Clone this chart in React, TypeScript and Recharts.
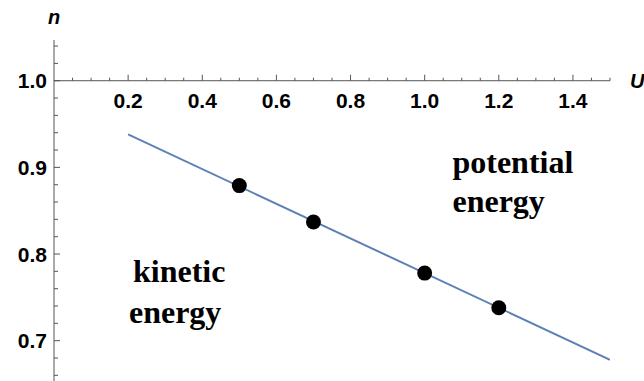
import {
  ComposedChart,
  Line,
  Scatter,
  XAxis,
  YAxis,
  ReferenceLine,
  ReferenceDot,
} from "recharts";

// fitted line n(U) and the four computed points
const lineU = [0.2, 1.5];
const lineN = [0.938, 0.678];
const pointU = [0.5, 0.7, 1.0, 1.2];
const pointN = [0.879, 0.837, 0.778, 0.738];

const xMajorTicks = [0.2, 0.4, 0.6, 0.8, 1.0, 1.2, 1.4];
const xMinorTicks = [
  0.05, 0.1, 0.15, 0.25, 0.3, 0.35, 0.45, 0.5, 0.55, 0.65, 0.7, 0.75,
  0.85, 0.9, 0.95, 1.05, 1.1, 1.15, 1.25, 1.3, 1.35, 1.45, 1.5,
];
const yTicks = [
  0.66, 0.68, 0.7, 0.72, 0.74, 0.76, 0.78, 0.8, 0.82, 0.84, 0.86, 0.88, 0.9,
  0.92, 0.94, 0.96, 0.98, 1.0, 1.02, 1.04,
];
const yMajorTicks = [0.7, 0.8, 0.9, 1.0];

const lineData = lineU.map((u, i) => ({ u, n: lineN[i] }));
const pointData = pointU.map((u, i) => ({ u, n: pointN[i] }));

const AXIS = "#555";
const SANS = "'Liberation Sans', Arial, sans-serif";
const SERIF = "'Liberation Serif', 'Times New Roman', serif";
const TICK_FONT = 21;

const YTick = (props: any) => {
  const { x, y, payload } = props;
  const major = yMajorTicks.some((t) => Math.abs(t - payload.value) < 1e-6);
  return (
    <g>
      <line x1={x} y1={y} x2={x + (major ? 6 : 4)} y2={y} stroke={AXIS} strokeWidth={1} />
      {major && (
        <text x={x - 7} y={y + 7.5} textAnchor="end" fontFamily={SANS} fontWeight="bold" fontSize={TICK_FONT} fill="#000">
          {payload.value.toFixed(1)}
        </text>
      )}
    </g>
  );
};

const xTickShape = (label?: string) => (props: any) => {
  const { cx, cy } = props;
  return (
    <g>
      <line x1={cx} y1={cy} x2={cx} y2={cy - (label ? 6 : 3)} stroke={AXIS} strokeWidth={1} />
      {label && (
        <text x={cx} y={cy + 27} textAnchor="middle" fontFamily={SANS} fontWeight="bold" fontSize={TICK_FONT} fill="#000">
          {label}
        </text>
      )}
    </g>
  );
};

const axisName = (text: string, dx: number, dy: number, anchor: string) => (props: any) => (
  <text
    x={props.cx + dx}
    y={props.cy + dy}
    textAnchor={anchor}
    fontFamily={SANS}
    fontWeight="bold"
    fontStyle="italic"
    fontSize={20}
    fill="#000"
  >
    {text}
  </text>
);

const note = (first: string, second: string, dx2: number, gap: number) => (props: any) => (
  <text fontFamily={SERIF} fontWeight="bold" fontSize={32} fill="#000">
    <tspan x={props.cx} y={props.cy}>{first}</tspan>
    <tspan x={props.cx + dx2} y={props.cy + gap}>{second}</tspan>
  </text>
);

export default function App() {
  return (
    <div style={{ position: "absolute", left: 0, top: 0, width: 644, height: 381, overflow: "hidden", background: "#fff" }}>
      <ComposedChart width={644} height={384} margin={{ top: 40, right: 34, bottom: 0, left: 0 }}>
        <XAxis type="number" dataKey="u" domain={[0, 1.5]} allowDataOverflow hide />
        <YAxis
          type="number"
          dataKey="n"
          domain={[0.65, 1.047]}
          allowDataOverflow
          width={54}
          ticks={yTicks}
          interval={0}
          tickSize={0}
          tickMargin={0}
          tickLine={false}
          axisLine={{ stroke: AXIS, strokeWidth: 1 }}
          tick={<YTick />}
        />
        <ReferenceLine
          segment={[
            { x: 0, y: 1 },
            { x: 1.5, y: 1 },
          ]}
          stroke={AXIS}
          strokeWidth={1}
          ifOverflow="visible"
        />
        {xMinorTicks.map((t) => (
          <ReferenceDot key={`m${t}`} x={t} y={1} ifOverflow="visible" shape={xTickShape()} />
        ))}
        {xMajorTicks.map((t) => (
          <ReferenceDot key={`M${t}`} x={t} y={1} ifOverflow="visible" shape={xTickShape(t.toFixed(1))} />
        ))}
        <ReferenceDot x={1.5} y={1} ifOverflow="visible" shape={axisName("U", 20, 7, "start")} />
        <ReferenceDot x={0} y={1.047} ifOverflow="visible" shape={axisName("n", 0, -16, "middle")} />
        <ReferenceDot x={0.213} y={0.768} ifOverflow="visible" shape={note("kinetic", "energy", -4, 41)} />
        <ReferenceDot x={1.075} y={0.893} ifOverflow="visible" shape={note("potential", "energy", 0, 39)} />
        <Line
          data={lineData}
          dataKey="n"
          type="linear"
          stroke="#5E81B5"
          strokeWidth={2}
          dot={false}
          activeDot={false}
          isAnimationActive={false}
        />
        <Scatter data={pointData} dataKey="n" fill="#000" shape={(p: any) => <circle cx={p.cx} cy={p.cy} r={7.5} fill="#000" />} isAnimationActive={false} />
      </ComposedChart>
    </div>
  );
}
